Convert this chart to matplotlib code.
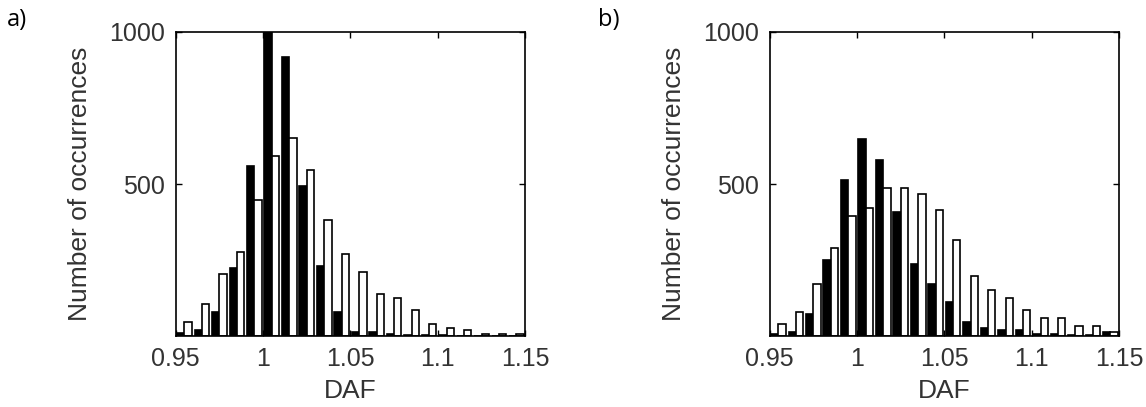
import numpy as np
import matplotlib
matplotlib.use('Agg')
import matplotlib.pyplot as plt

plt.rcParams['font.family'] = ['Liberation Sans', 'DejaVu Sans']

# bin centres of the DAF histograms (groups of two bars)
daf_bins = [0.955, 0.965, 0.975, 0.985, 0.995, 1.005, 1.015, 1.025, 1.035, 1.045,
            1.055, 1.065, 1.075, 1.085, 1.095, 1.105, 1.115, 1.125, 1.135, 1.145]

# panel a)
a_black = [10, 20, 80, 225, 560, 1000, 917, 495, 231, 80,
           13, 13, 6, 3, 3, 2, 1, 1, 1, 1]
a_white = [46, 105, 204, 276, 447, 593, 652, 546, 382, 270,
           209, 138, 125, 86, 39, 25, 20, 7, 7, 7]

# panel b)
b_black = [5, 12, 72, 250, 513, 647, 579, 409, 237, 171,
           112, 46, 26, 20, 20, 7, 5, 4, 3, 12]
b_white = [39, 78, 171, 288, 395, 420, 486, 486, 466, 414,
           316, 197, 150, 124, 84, 58, 58, 32, 32, 12]

panel_names = ['a)', 'b)']
x_ticks = [0.95, 1, 1.05, 1.1, 1.15]
x_ticklabels = ['0.95', '1', '1.05', '1.1', '1.15']
y_ticks = [500, 1000]

fig = plt.figure(figsize=(11.46, 4.07), dpi=100)
fig.patch.set_facecolor('white')

positions = [[0.1533, 0.1744, 0.3050, 0.747],
             [0.6716, 0.1744, 0.3050, 0.747]]
data = [(a_black, a_white), (b_black, b_white)]
label_x = [0.006, 0.522]

tick_color = '#333333'
w = 0.0042
for i in range(2):
    ax = fig.add_axes(positions[i])
    blk, wht = data[i]
    x = np.array(daf_bins)
    ax.bar(x - 0.0021, blk, width=w, color='black', edgecolor='black', linewidth=1.2)
    ax.bar(x + 0.0021, wht, width=w, color='white', edgecolor='black', linewidth=1.2)
    ax.set_xlim(0.95, 1.15)
    ax.set_ylim(0, 1000)
    ax.set_xticks(x_ticks)
    ax.set_xticklabels(x_ticklabels)
    ax.set_yticks(y_ticks)
    ax.tick_params(direction='in', length=4, width=1, top=True, right=True,
                   labelsize=18, labelcolor=tick_color, pad=8)
    for s in ax.spines.values():
        s.set_linewidth(1.2)
    ax.set_xlabel('DAF', fontsize=19, color=tick_color, labelpad=6)
    ax.set_ylabel('Number of occurrences', fontsize=19, color=tick_color, labelpad=12)
    fig.text(label_x[i], 0.952, panel_names[i], fontsize=17, ha='left', va='center',
             family=['Open Sans', 'DejaVu Sans'])

fig.savefig('out.png', dpi=100, facecolor='white')
